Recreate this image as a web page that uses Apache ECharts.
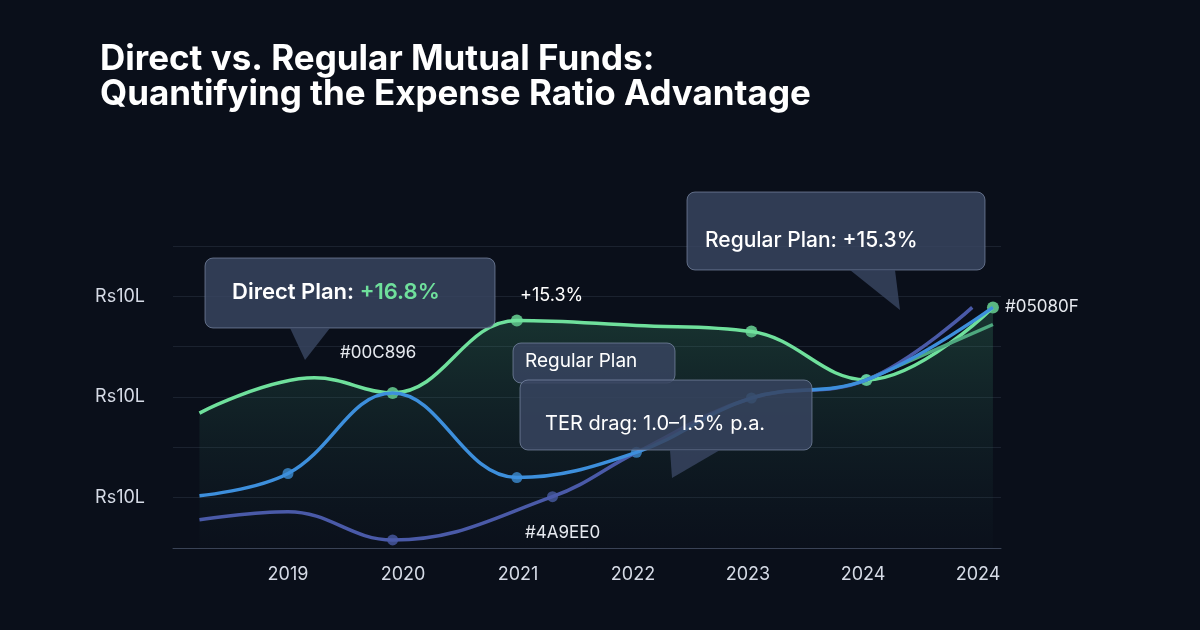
<!DOCTYPE html>
<html>
<head>
<meta charset="utf-8">
<script src="https://cdn.jsdelivr.net/npm/echarts@6/dist/echarts.min.js"></script>
<style>
  html, body { margin: 0; padding: 0; background: #0a0f1a; }
  #chart { width: 1200px; height: 630px; }
</style>
</head>
<body>
<div id="chart"></div>
<script>
// x 轴刻度文字
var tickLabels = ['2019', '2020', '2021', '2022', '2023', '2024', '2024'];
// 各条线 [x位置, 值]
var directLine = [[-0.77, 1.34], [0.23, 1.69], [0.91, 1.54], [1.99, 2.26], [3.03, 2.21], [4.03, 2.15], [5.03, 1.67], [6.13, 2.39]];
var directBranch = [[5.03, 1.67], [6.13, 2.22]];
var regularLine = [[-0.77, 0.52], [0.0, 0.74], [0.91, 1.54], [1.99, 0.70], [3.03, 0.95], [4.03, 1.49], [5.03, 1.67], [6.13, 2.39]];
var lowLine = [[-0.77, 0.28], [0.0, 0.36], [0.91, 0.08], [2.30, 0.51], [3.03, 0.95], [4.03, 1.49], [5.03, 1.67], [5.95, 2.39]];
var dotsGreen = [[0.91, 1.54], [1.99, 2.26], [4.03, 2.15], [5.03, 1.67], [6.13, 2.39]];
var dotsBlue = [[0.0, 0.74], [1.99, 0.70], [3.03, 0.95], [4.03, 1.49], [5.03, 1.67]];
var dotsLow = [[0.91, 0.08], [2.30, 0.51]];

var chart = echarts.init(document.getElementById('chart'));

var boxFill = 'rgba(55,68,95,0.85)';
function box(x, y, w, h) {
  return { type: 'rect', z: 100, shape: { x: x, y: y, width: w, height: h, r: 8 },
    style: { fill: boxFill, stroke: 'rgba(140,155,185,0.6)', lineWidth: 1 } };
}
function tail(x1, x2, y, tx, ty) {
  return { type: 'polygon', z: 101, shape: { points: [[x1, y], [x2, y], [tx, ty]] },
    style: { fill: boxFill } };
}
function label(x, y, txt, font, color) {
  return { type: 'text', z: 102, x: x, y: y, style: { text: txt, fill: color || '#ffffff', font: font } };
}

var option = {
  backgroundColor: '#0a0f1a',
  grid: { left: 173, right: 199, top: 246, bottom: 82 },
  xAxis: {
    type: 'value', min: -1, max: 6.2, interval: 1,
    axisLine: { show: true, lineStyle: { color: '#3a4356' } },
    axisTick: { show: false },
    splitLine: { show: false },
    axisLabel: { color: '#d6dbe6', fontSize: 18, margin: 18, fontFamily: 'Inter',
      formatter: function (v) { return v >= 0 && v < tickLabels.length ? tickLabels[v] : ''; } }
  },
  yAxis: {
    type: 'value', min: 0, max: 3, interval: 0.5,
    axisLine: { show: false }, axisTick: { show: false },
    splitLine: { lineStyle: { color: 'rgba(120,135,160,0.16)' } },
    axisLabel: { color: '#d6dbe6', fontSize: 18, margin: 28, fontFamily: 'Inter',
      formatter: function (v) { return (Math.round(v * 2) % 2 === 1) ? 'Rs10L' : ''; } }
  },
  series: [
    { type: 'line', data: directLine, smooth: 0.4, symbol: 'none',
      lineStyle: { color: '#6fe09c', width: 3.5 },
      areaStyle: { color: new echarts.graphic.LinearGradient(0, 0, 0, 1, [
        { offset: 0, color: 'rgba(70,170,120,0.35)' }, { offset: 1, color: 'rgba(40,90,90,0.03)' }]) } },
    { type: 'line', data: directBranch, smooth: 0.4, symbol: 'none',
      lineStyle: { color: '#4ea87f', width: 3.5 } },
    { type: 'line', data: lowLine, smooth: 0.4, symbol: 'none',
      lineStyle: { color: '#4a5aa8', width: 3.5 } },
    { type: 'line', data: regularLine, smooth: 0.4, symbol: 'none',
      lineStyle: { color: '#3d8fdc', width: 3.5 } },
    { type: 'scatter', data: dotsLow, symbolSize: 11, itemStyle: { color: '#4a5aa8' } },
    { type: 'scatter', data: dotsBlue, symbolSize: 11, itemStyle: { color: '#3d8fdc' } },
    { type: 'scatter', data: dotsGreen, symbolSize: 12, itemStyle: { color: '#6fe09c' } }
  ],
  graphic: [
    label(100, 42, 'Direct vs. Regular Mutual Funds:\nQuantifying the Expense Ratio Advantage', 'bold 35px Inter'),
    box(205, 258, 290, 70), tail(290, 330, 328, 305, 360),
    { type: 'text', z: 102, x: 232, y: 281, style: { rich: { a: { fill: '#ffffff', font: '600 22px Inter' }, b: { fill: '#6fe09c', font: '600 22px Inter' } },
      text: '{a|Direct Plan: }{b|+16.8%}' } },
    box(687, 192, 298, 78), tail(850, 895, 270, 900, 310),
    label(705, 230, 'Regular Plan: +15.3%', '500 21px Inter'),
    box(513, 343, 162, 40),
    label(525, 352, 'Regular Plan', '19px Inter'),
    box(520, 380, 292, 70), tail(670, 720, 450, 672, 478),
    label(545, 414, 'TER drag: 1.0–1.5% p.a.', '20px Inter'),
    label(520, 287, '+15.3%', '18px Inter'),
    label(340, 344, '#00C896', '17px Inter', '#e6e9ef'),
    label(525, 524, '#4A9EE0', '17px Inter', '#e6e9ef'),
    label(1005, 298, '#05080F', '17px Inter', '#e6e9ef')
  ]
};
chart.setOption(option);
</script>
</body>
</html>
